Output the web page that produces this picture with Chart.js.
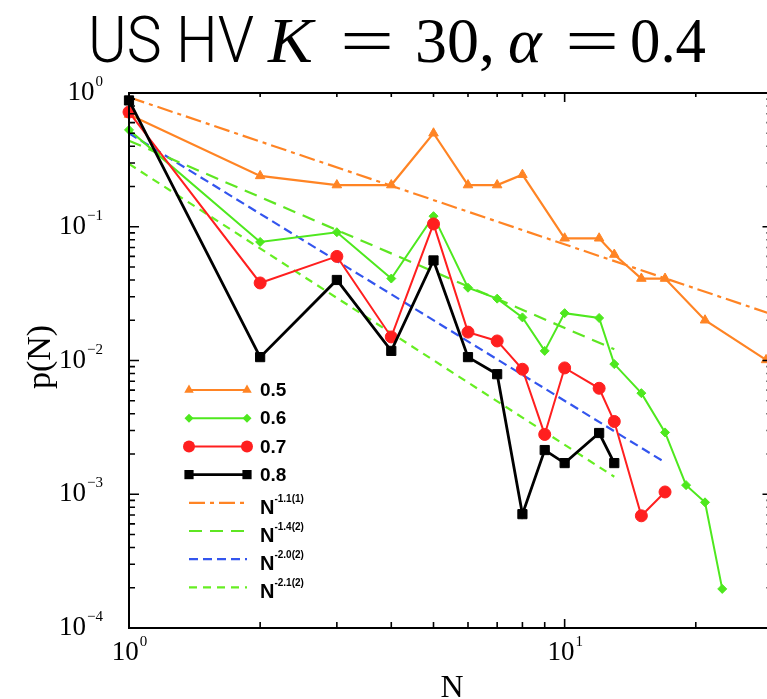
<!DOCTYPE html>
<html>
<head>
<meta charset="utf-8">
<script src="https://cdn.jsdelivr.net/npm/chart.js@4.4.1/dist/chart.umd.min.js"></script>
<style>
  html, body { margin: 0; padding: 0; background: #fff; overflow: hidden; }
  #wrap { width: 780px; height: 699px; }
</style>
</head>
<body>
<div id="wrap"><canvas id="pn" width="780" height="699"></canvas></div>
<script>
// p(N) curves, one per alpha value
const nA05 = [1, 2, 3, 4, 5, 6, 7, 8, 10, 12, 13, 15, 17, 21, 29];
const pA05 = [0.69, 0.24, 0.205, 0.205, 0.50, 0.205, 0.205, 0.245, 0.082, 0.082, 0.062, 0.041, 0.041, 0.020, 0.0101];
const nA06 = [1, 2, 3, 4, 5, 6, 7, 8, 9, 10, 12, 13, 15, 17, 19, 21, 23];
const pA06 = [0.53, 0.077, 0.091, 0.041, 0.12, 0.035, 0.029, 0.021, 0.0118, 0.0226, 0.0208, 0.0094, 0.0057, 0.0029, 0.00117, 0.00087, 0.000196];
const nA07 = [1, 2, 3, 4, 5, 6, 7, 8, 9, 10, 12, 13, 15, 17];
const pA07 = [0.72, 0.038, 0.060, 0.015, 0.105, 0.0163, 0.014, 0.0086, 0.0028, 0.0088, 0.0062, 0.0035, 0.00069, 0.00104];
const nA08 = [1, 2, 3, 4, 5, 6, 7, 8, 9, 10, 12, 13];
const pA08 = [0.88, 0.0106, 0.040, 0.0118, 0.056, 0.0106, 0.0079, 0.00071, 0.00214, 0.00171, 0.00287, 0.00171];
const alphaLabels = ['0.5', '0.6', '0.7', '0.8'];

// power-law guides p ~ A * N^-k
const fitExp = [1.1, 1.4, 2.0, 2.1];
const fitErr = ['1', '2', '2', '2'];
const fitAmp = [0.93, 0.44, 0.5, 0.295];
const fitEnd = [30, 13, 17, 13];

const xTicks = [1, 10];
const yTicks = [1e-4, 1e-3, 1e-2, 1e-1, 1];

const pts = (ns, ps) => ns.map((n, i) => ({ x: n, y: ps[i] }));

const seriesStyle = [
  { color: '#ff8424', marker: 'triangle', r: 5.5, w: 2.2 },
  { color: '#4ee81e', marker: 'rectRot', r: 4.5, w: 2 },
  { color: '#ff1f1f', marker: 'circle', r: 6, w: 2 },
  { color: '#000000', marker: 'rect', r: 6.5, w: 2.8 }
];
const fitStyle = [
  { color: '#ff8424', dash: [16, 5, 4, 5] },
  { color: '#5ee622', dash: [13, 8] },
  { color: '#3355ee', dash: [9, 5] },
  { color: '#66ee22', dash: [8, 6] }
];

const seriesData = [pts(nA05, pA05), pts(nA06, pA06), pts(nA07, pA07), pts(nA08, pA08)];

const datasets = seriesData.map((d, i) => ({
  label: alphaLabels[i],
  data: d,
  borderColor: seriesStyle[i].color,
  backgroundColor: seriesStyle[i].color,
  borderWidth: seriesStyle[i].w,
  pointStyle: seriesStyle[i].marker,
  pointRadius: seriesStyle[i].r,
  pointBorderWidth: 1,
  pointBorderColor: seriesStyle[i].color,
  pointBackgroundColor: seriesStyle[i].color,
  tension: 0,
  clip: false,
  order: 4 - i
}));

fitExp.forEach((k, i) => {
  datasets.push({
    label: 'N^-' + k.toFixed(1),
    data: [1, fitEnd[i]].map(n => ({ x: n, y: fitAmp[i] * Math.pow(n, -k) })),
    borderColor: fitStyle[i].color,
    borderWidth: 2.2,
    borderDash: fitStyle[i].dash,
    pointRadius: 0,
    clip: false,
    order: 10
  });
});

function marker(ctx, style, x, y, r, color) {
  ctx.fillStyle = color;
  ctx.beginPath();
  if (style === 'circle') {
    ctx.arc(x, y, r, 0, Math.PI * 2);
  } else if (style === 'triangle') {
    ctx.moveTo(x, y - r);
    ctx.lineTo(x + r * 0.866, y + r * 0.5);
    ctx.lineTo(x - r * 0.866, y + r * 0.5);
  } else if (style === 'rectRot') {
    ctx.moveTo(x, y - r); ctx.lineTo(x + r, y); ctx.lineTo(x, y + r); ctx.lineTo(x - r, y);
  } else {
    const s = r * Math.SQRT1_2;
    ctx.rect(x - s, y - s, 2 * s, 2 * s);
  }
  ctx.closePath();
  ctx.fill();
}

function powLabel(ctx, x, y, exp, align) {
  const sup = exp < 0 ? '\u2212' + (-exp) : String(exp);
  ctx.font = '27px "Liberation Serif"';
  const wb = ctx.measureText('10').width;
  ctx.font = '15px "Liberation Serif"';
  const ws = ctx.measureText(sup).width;
  const x0 = align === 'right' ? x - wb - ws : x - (wb + ws) / 2;
  ctx.textAlign = 'left';
  ctx.textBaseline = 'alphabetic';
  ctx.font = '27px "Liberation Serif"';
  ctx.fillText('10', x0, y);
  ctx.font = '15px "Liberation Serif"';
  ctx.fillText(sup, x0 + wb + 1, y - 14);
}

// title pieces: text, font, left x, horizontal squeeze
const titleParts = [
  { t: 'US HV', f: '300 64px Roboto, "Liberation Sans", sans-serif', x: 88, sx: 0.92 },
  { t: 'K', f: 'italic 64px "Liberation Serif"', x: 268, sx: 1.05 },
  { t: '=', f: '64px "Liberation Serif"', x: 340, sx: 1.5 },
  { t: '30,', f: '64px "Liberation Serif"', x: 415, sx: 1 },
  { t: '\u03b1', f: 'italic 64px "Liberation Serif"', x: 508, sx: 1 },
  { t: '=', f: '64px "Liberation Serif"', x: 565, sx: 1.5 },
  { t: '0.4', f: '64px "Liberation Serif"', x: 630, sx: 0.95 }
];

const frame = {
  id: 'frame',
  afterDraw(chart) {
    const ctx = chart.ctx;
    const xs = chart.scales.x, ys = chart.scales.y;
    const a = chart.chartArea;
    ctx.save();
    ctx.strokeStyle = '#000';
    ctx.fillStyle = '#000';
    ctx.lineWidth = 2;
    ctx.strokeRect(a.left, a.top, a.right - a.left, a.bottom - a.top);

    // inward ticks, majors at each decade
    ctx.lineWidth = 1.6;
    ctx.beginPath();
    for (let d = 1; d <= 10; d *= 10) {
      for (let m = 1; m <= 9; m++) {
        const v = m * d;
        if (v > xs.max) break;
        const px = xs.getPixelForValue(v);
        const major = m === 1;
        ctx.moveTo(px, a.bottom); ctx.lineTo(px, a.bottom - (major ? 9 : 6));
        ctx.moveTo(px, a.top); ctx.lineTo(px, a.top + (major ? 9 : 4));
      }
    }
    for (let e = -4; e <= 0; e++) {
      for (let m = 1; m <= 9; m++) {
        const v = m * Math.pow(10, e);
        if (v > ys.max * 1.0001) break;
        const py = ys.getPixelForValue(v);
        const major = m === 1;
        ctx.moveTo(a.left, py); ctx.lineTo(a.left + (major ? 10 : 6), py);
        ctx.moveTo(a.right, py); ctx.lineTo(a.right - (major ? 10 : 6), py);
      }
    }
    ctx.stroke();

    // tick labels
    xTicks.forEach(v => powLabel(ctx, xs.getPixelForValue(v), 660, Math.round(Math.log10(v)), 'center'));
    yTicks.forEach(v => powLabel(ctx, 102, ys.getPixelForValue(v) + 7, Math.round(Math.log10(v)), 'right'));

    // axis titles
    ctx.font = '32px "Liberation Serif"';
    ctx.textAlign = 'center';
    ctx.textBaseline = 'alphabetic';
    ctx.fillText('N', 452, 697);
    ctx.save();
    ctx.translate(50, 357);
    ctx.rotate(-Math.PI / 2);
    ctx.font = '34px "Liberation Serif"';
    ctx.fillText('p(N)', 0, 0);
    ctx.restore();

    // title
    ctx.textAlign = 'left';
    titleParts.forEach(p => {
      ctx.save();
      ctx.font = p.f;
      ctx.translate(p.x, 62);
      ctx.scale(p.sx, 1);
      ctx.fillText(p.t, 0, 0);
      ctx.restore();
    });

    // legend
    const x1 = 189, x2 = 247;
    const rowY = i => 390 + i * 28.2;
    seriesStyle.forEach((s, i) => {
      const y = rowY(i);
      ctx.strokeStyle = s.color;
      ctx.lineWidth = s.w;
      ctx.setLineDash([]);
      ctx.beginPath(); ctx.moveTo(x1, y); ctx.lineTo(x2, y); ctx.stroke();
      marker(ctx, s.marker, x1, y, s.r, s.color);
      marker(ctx, s.marker, x2, y, s.r, s.color);
      ctx.fillStyle = '#000';
      ctx.font = 'bold 19px "Liberation Sans"';
      ctx.textBaseline = 'middle';
      ctx.fillText(alphaLabels[i], 260, y + 1);
    });
    fitStyle.forEach((s, i) => {
      const y = rowY(i + 4);
      ctx.strokeStyle = s.color;
      ctx.lineWidth = 2.2;
      ctx.setLineDash(s.dash);
      ctx.beginPath(); ctx.moveTo(x1, y); ctx.lineTo(x2, y); ctx.stroke();
      ctx.setLineDash([]);
      ctx.fillStyle = '#000';
      ctx.textBaseline = 'alphabetic';
      ctx.font = 'bold 20px "Liberation Sans"';
      ctx.fillText('N', 260, y + 11);
      const wn = ctx.measureText('N').width;
      ctx.font = 'bold 10px "Liberation Sans"';
      ctx.fillText('-' + fitExp[i].toFixed(1) + '(' + fitErr[i] + ')', 260 + wn, y - 1);
    });
    ctx.restore();
  }
};

new Chart(document.getElementById('pn'), {
  type: 'line',
  data: { datasets },
  options: {
    responsive: false,
    animation: false,
    layout: { padding: { top: 93, right: 7, left: 0, bottom: 0 } },
    plugins: { legend: { display: false }, tooltip: { enabled: false } },
    scales: {
      x: {
        type: 'logarithmic', min: 1, max: 30,
        grid: { display: false }, border: { display: false },
        ticks: { display: false },
        afterFit: s => { s.height = 71; }
      },
      y: {
        type: 'logarithmic', min: 1e-4, max: 1,
        grid: { display: false }, border: { display: false },
        ticks: { display: false },
        afterFit: s => { s.width = 129; }
      }
    }
  },
  plugins: [frame]
});
</script>
</body>
</html>
